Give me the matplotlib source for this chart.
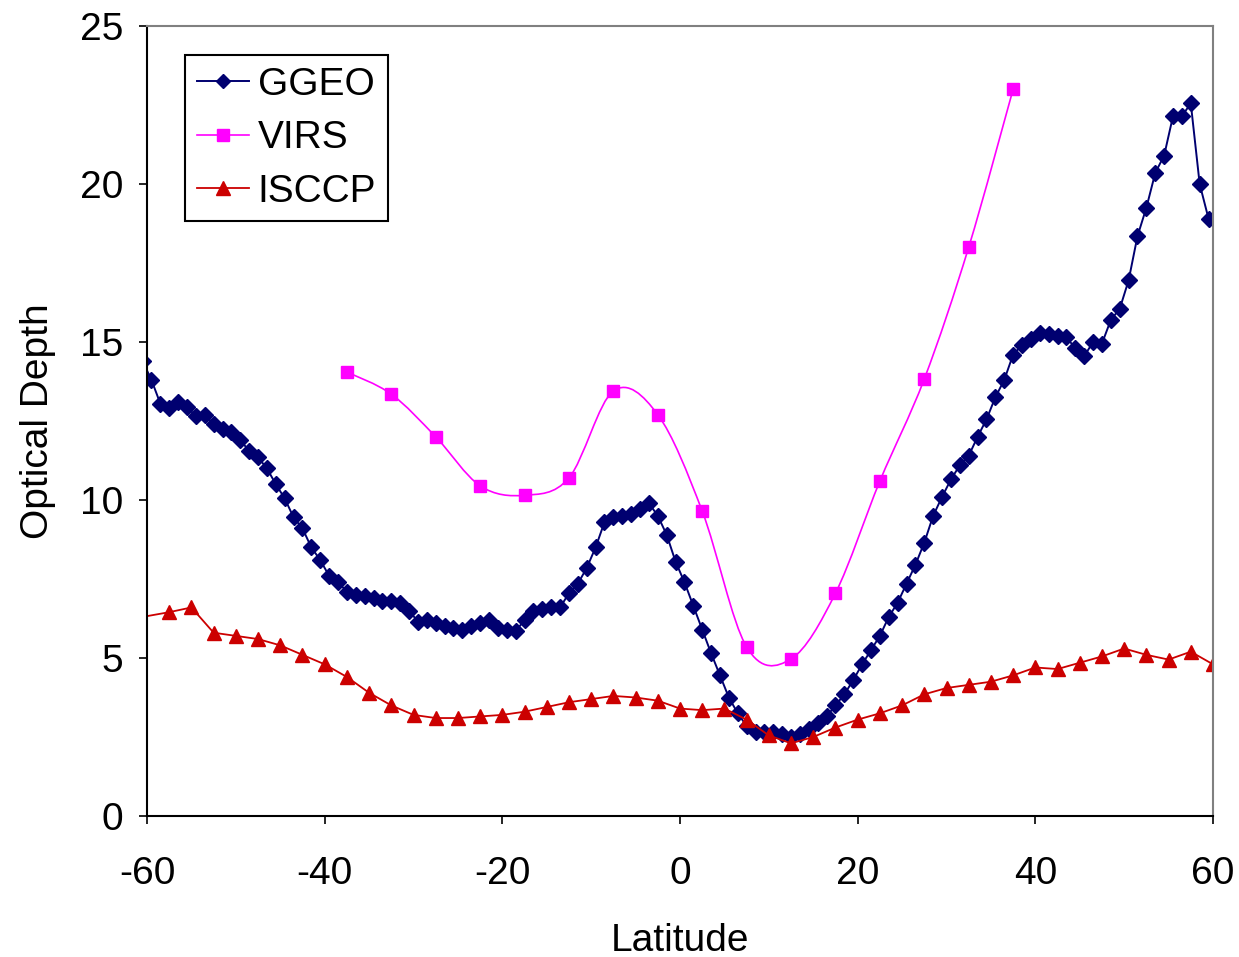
import numpy as np
import matplotlib
matplotlib.use("Agg")
import matplotlib.pyplot as plt
from matplotlib.path import Path
from matplotlib.patches import PathPatch
from matplotlib.lines import Line2D

plt.rcParams["font.family"] = ["Liberation Sans", "DejaVu Sans"]
plt.rcParams["axes.unicode_minus"] = False

# GGEO, 1 degree bins (first and last fall just outside the axis)
ggeo_lat = np.arange(-60.5, 61.0, 1.0)
ggeo_val = [
    14.4, 13.8, 13.05, 12.9, 13.1, 12.95, 12.65, 12.7, 12.4, 12.25,
    12.15, 11.9, 11.55, 11.35, 11.0, 10.5, 10.05, 9.45, 9.1, 8.5,
    8.1, 7.6, 7.4, 7.1, 7.0, 6.95, 6.9, 6.8, 6.8, 6.75,
    6.5, 6.15, 6.2, 6.1, 6.0, 5.95, 5.9, 6.0, 6.1, 6.2,
    5.95, 5.9, 5.85, 6.2, 6.5, 6.55, 6.6, 6.6, 7.05, 7.35,
    7.85, 8.5, 9.3, 9.45, 9.5, 9.55, 9.7, 9.9, 9.5, 8.9,
    8.05, 7.4, 6.65, 5.9, 5.15, 4.45, 3.75, 3.25, 2.85, 2.65,
    2.65, 2.65, 2.6, 2.5, 2.6, 2.75, 2.95, 3.15, 3.5, 3.85,
    4.3, 4.8, 5.25, 5.7, 6.3, 6.75, 7.35, 7.95, 8.65, 9.5,
    10.1, 10.65, 11.1, 11.4, 12.0, 12.55, 13.25, 13.8, 14.6, 14.9,
    15.1, 15.3, 15.25, 15.2, 15.15, 14.8, 14.55, 15.0, 14.95, 15.7,
    16.05, 16.95, 18.35, 19.25, 20.35, 20.9, 22.15, 22.15, 22.55, 20.0,
    18.9, 18.95,
]

# VIRS, 5 degree bins
virs_lat = [-37.5, -32.5, -27.5, -22.5, -17.5, -12.5, -7.5, -2.5,
            2.5, 7.5, 12.5, 17.5, 22.5, 27.5, 32.5, 37.5]
virs_val = [14.05, 13.35, 12.0, 10.45, 10.15, 10.7, 13.45, 12.7,
            9.65, 5.35, 4.97, 7.05, 10.6, 13.83, 18.0, 23.0]

# ISCCP, 2.5 degree bins
isccp_lat = [-62.5, -57.5, -55.0, -52.5, -50.0, -47.5, -45.0, -42.5, -40.0,
             -37.5, -35.0, -32.5, -30.0, -27.5, -25.0, -22.5, -20.0, -17.5,
             -15.0, -12.5, -10.0, -7.5, -5.0, -2.5, 0.0, 2.5, 5.0, 7.5,
             10.0, 12.5, 15.0, 17.5, 20.0, 22.5, 25.0, 27.5, 30.0, 32.5,
             35.0, 37.5, 40.0, 42.5, 45.0, 47.5, 50.0, 52.5, 55.0, 57.5, 60.0]
isccp_val = [6.2, 6.45, 6.6, 5.8, 5.7, 5.6, 5.4, 5.1, 4.8,
             4.4, 3.9, 3.5, 3.2, 3.1, 3.1, 3.15, 3.2, 3.3,
             3.45, 3.6, 3.7, 3.8, 3.75, 3.65, 3.4, 3.35, 3.4, 3.05,
             2.55, 2.3, 2.5, 2.8, 3.05, 3.25, 3.5, 3.85, 4.05, 4.15,
             4.25, 4.45, 4.7, 4.65, 4.85, 5.05, 5.3, 5.1, 4.95, 5.2, 4.8]

c_ggeo = "#000070"
c_virs = "#FF00FF"
c_isccp = "#CC0000"


def smooth_path(x, y):
    # Excel-like smoothed line: cubic Bezier through every point
    pts = np.column_stack([x, y]).astype(float)
    n = len(pts)
    verts = [pts[0]]
    codes = [Path.MOVETO]
    for i in range(n - 1):
        p0 = pts[max(i - 1, 0)]
        p1 = pts[i]
        p2 = pts[i + 1]
        p3 = pts[min(i + 2, n - 1)]
        verts += [p1 + (p2 - p0) / 6, p2 - (p3 - p1) / 6, p2]
        codes += [Path.CURVE4] * 3
    return Path(verts, codes)


fig = plt.figure(figsize=(12.39, 9.57), dpi=100)
ax = fig.add_axes([147 / 1239, 1 - 816 / 957, 1066 / 1239, 790 / 957])

ax.plot(ggeo_lat, ggeo_val, color=c_ggeo, lw=1.4, marker="D", ms=8,
        mec=c_ggeo, mfc=c_ggeo)

ax.add_patch(PathPatch(smooth_path(virs_lat, virs_val), fill=False,
                       edgecolor=c_virs, lw=1.2))
ax.plot(virs_lat, virs_val, ls="none", marker="s", ms=9, color=c_virs)

ax.plot(isccp_lat, isccp_val, color=c_isccp, lw=1.3, marker="^", ms=9.5)

ax.set_xlim(-60, 60)
ax.set_ylim(0, 25)
ax.set_xticks(range(-60, 61, 20))
ax.set_yticks(range(0, 26, 5))

for side in ["left", "bottom"]:
    ax.spines[side].set_color("black")
    ax.spines[side].set_linewidth(1.5)
for side in ["top", "right"]:
    ax.spines[side].set_color("#808080")
    ax.spines[side].set_linewidth(1.5)

ax.tick_params(axis="both", direction="out", length=6, width=1.2,
               labelsize=28, colors="black")
ax.tick_params(axis="x", pad=23)
ax.tick_params(axis="y", pad=11)

ax.set_xlabel("Latitude", fontsize=28)
ax.set_ylabel("Optical Depth", fontsize=28)
ax.xaxis.set_label_coords(0.5, -0.135)
ax.yaxis.set_label_coords(-0.085, 0.5)

handles = [
    Line2D([], [], color=c_ggeo, lw=1.4, marker="D", ms=7.5),
    Line2D([], [], color=c_virs, lw=1.2, marker="s", ms=9),
    Line2D([], [], color=c_isccp, lw=1.3, marker="^", ms=9.5),
]
leg = ax.legend(handles, ["GGEO", "VIRS", "ISCCP"], loc="upper left",
                bbox_to_anchor=(185 / 1239, 1 - 55 / 957),
                bbox_transform=fig.transFigure, borderaxespad=0,
                fontsize=28, numpoints=1, handlelength=1.35,
                handletextpad=0.22, labelspacing=0.45, borderpad=0.3,
                fancybox=False, framealpha=1)
leg.get_frame().set_edgecolor("black")
leg.get_frame().set_linewidth(1.5)

fig.savefig("out.png", dpi=100)
